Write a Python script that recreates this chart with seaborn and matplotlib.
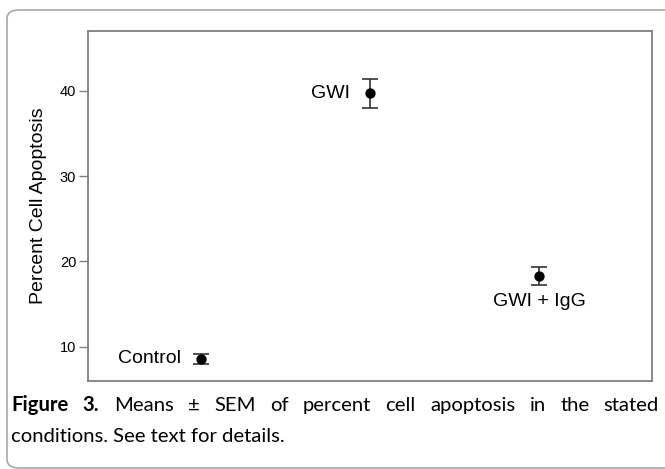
#!/usr/bin/env python3

import pandas as pd
import numpy as np
import matplotlib
matplotlib.use("Agg")
import matplotlib.pyplot as plt
from matplotlib.patches import FancyBboxPatch
import seaborn as sns

# data
groups = ["Control", "GWI", "GWI + IgG"]
positions = [1, 2, 3]
means = [8.6, 39.7, 18.3]
sems = [0.6, 1.7, 1.0]
y_ticks = [10, 20, 30, 40]

caption_line1 = ["Figure", "3.", "Means", "±", "SEM", "of", "percent", "cell",
                 "apoptosis", "in", "the", "stated"]
caption_bold = 2
caption_line2 = "conditions. See text for details."

W, H = 665, 469

sns.set_style("white")
plt.rcParams["font.family"] = ["Liberation Sans", "DejaVu Sans"]
plt.rcParams["text.color"] = "black"
plt.rcParams["axes.labelcolor"] = "black"
plt.rcParams["ytick.labelcolor"] = "black"

df = pd.DataFrame({"group": groups, "pos": positions, "mean": means, "sem": sems})

fig = plt.figure(figsize=(W / 100, H / 100), dpi=100)
ax = fig.add_axes([88 / W, 1 - 381 / H, (652 - 88) / W, (381 - 31) / H])

# error bars first, then the points on top
ax.errorbar(df["pos"], df["mean"], yerr=df["sem"], fmt="none", ecolor="#333333",
            elinewidth=1.2, capsize=6, capthick=1.2, zorder=2)
sns.scatterplot(data=df, x="pos", y="mean", color="black", s=55,
                edgecolor="black", linewidth=0, ax=ax, zorder=3, legend=False)

# group labels
for _, r in df.iterrows():
    if r["group"] == "GWI + IgG":
        ax.annotate(r["group"], (r["pos"], r["mean"]), xytext=(0, -18),
                    textcoords="offset points", ha="center", va="center",
                    fontsize=14, color="black")
    else:
        ax.annotate(r["group"], (r["pos"], r["mean"]), xytext=(-14.5, 0),
                    textcoords="offset points", ha="right", va="center",
                    fontsize=14, color="black")

ax.set_xlim(0.333, 3.667)
ax.set_ylim(6, 47)
ax.set_xticks([])
ax.set_yticks(y_ticks)
ax.tick_params(axis="y", left=True, length=6.5, width=1, color="#7f7f7f",
               labelsize=10.5, labelcolor="black", pad=2)
ax.set_xlabel("")
ax.set_ylabel("Percent Cell Apoptosis", fontsize=14, labelpad=9, color="black")
for s in ax.spines.values():
    s.set_color("#7f7f7f")
    s.set_linewidth(1.3)

# outer rounded frame around figure + caption
frame = FancyBboxPatch((7 / W, 1 - 468 / H), (720 - 7) / W, (468 - 10) / H,
                       boxstyle="round,pad=0,rounding_size=0.018",
                       transform=fig.transFigure, fill=False,
                       edgecolor="#a8a8a8", linewidth=1.2)
fig.patches.append(frame)

# caption, first line justified
cap_font = ["Lato", "DejaVu Sans"]
cap_size = 14.6
x_left, x_right = 11, 659
y1 = 1 - 405 / H
y2 = 1 - 436 / H
renderer = fig.canvas.get_renderer()
texts = []
for i, w in enumerate(caption_line1):
    t = fig.text(0, y1, w, fontsize=cap_size, family=cap_font, color="black",
                 fontweight="bold" if i < caption_bold else "normal",
                 ha="left", va="center")
    texts.append(t)
widths = [t.get_window_extent(renderer).width for t in texts]
gap = (x_right - x_left - sum(widths)) / (len(texts) - 1)
x = x_left
for t, wd in zip(texts, widths):
    t.set_x(x / W)
    x += wd + gap

fig.text(x_left / W, y2, caption_line2, fontsize=cap_size, family=cap_font,
         color="black", ha="left", va="center")

fig.savefig("out.png", dpi=100)
